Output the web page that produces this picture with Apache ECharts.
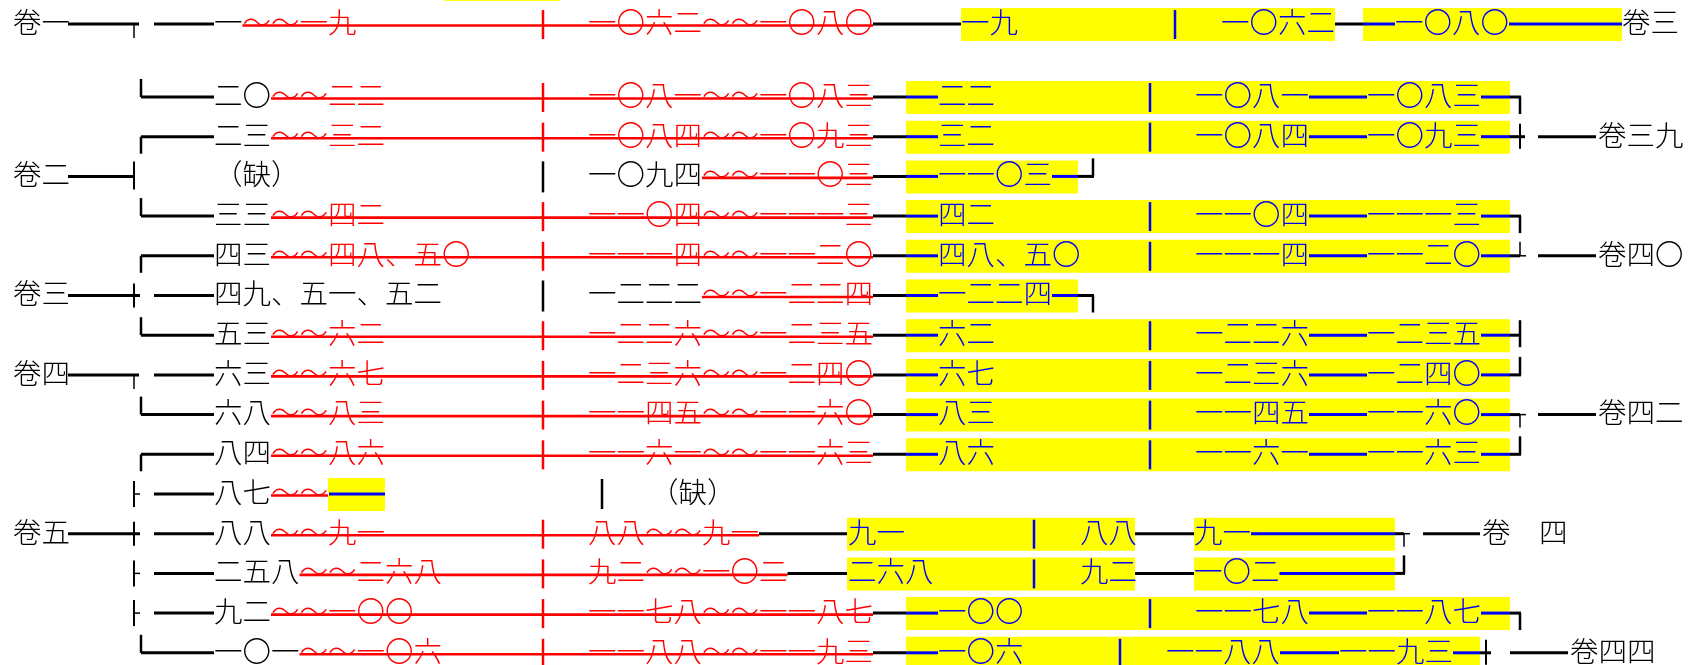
<!DOCTYPE html>
<html><head><meta charset="utf-8">
<script src="https://cdn.jsdelivr.net/npm/echarts@6/dist/echarts.min.js"></script>
<style>html,body{margin:0;padding:0;background:#fff}#c{width:1705px;height:665px}</style>
</head><body><div id="c"></div>
<script>
// ---------------- content ----------------
const leftVolumes  = ['卷一','','','卷二','','','卷三','','卷四','','','','卷五','','',''];
const leftBrackets = ['┬','└','┌','┤','└','┌','┼','└','┬','└','┌','├','┼','├','├','└'];
const col1Kept   = ['一','二〇','二三','（缺）','三三','四三','四九、五一、五二','五三','六三','六八','八四','八七','八八','二五八','九二','一〇一'];
const col1Struck = ['～～一九','～～二二','～～三二','','～～四二','～～四八、五〇','','～～六二','～～六七','～～八三','～～八六','～～','～～九一','～～二六八','～～一〇〇','～～一〇六'];
const col2Kept   = ['','','','一〇九四','','','一二二二','','','','','（缺）','','','',''];
const col2Struck = ['一〇六二～～一〇八〇','一〇八一～～一〇八三','一〇八四～～一〇九三','～～一一〇三','一一〇四～～一一一三','一一一四～～一一二〇','～～一二二四','一二二六～～一二三五','一二三六～～一二四〇','一一四五～～一一六〇','一一六一～～一一六三','','八八～～九一','九二～～一〇二','一一七八～～一一八七','一一八八～～一一九三'];
const newFirst = ['一九','二二','三二','','四二','四八、五〇','','六二','六七','八三','八六','','九一','二六八','一〇〇','一〇六'];
const newFrom  = ['一〇六二','一〇八一','一〇八四','','一一〇四','一一一四','','一二二六','一二三六','一一四五','一一六一','','八八','九二','一一七八','一一八八'];
const newTo    = ['一〇八〇','一〇八三','一〇九三','一一〇三','一一一三','一一二〇','一二二四','一二三五','一二四〇','一一六〇','一一六三','','九一','一〇二','一一八七','一一九三'];
const rightBrackets = ['','┐','┼','┘','┐','┴','┐','┤','┘','┬','┘','','┬','┘','┐','┼'];
const rightVolumes  = ['卷三','','卷三九','','','卷四〇','','','','卷四二','','','卷　四','','','卷四四'];
const rowKinds = ['head','full','full','short','full','full','short','full','full','full','full','gap','split','split','full','tail'];
const fragmentRows = [-1];

// ---------------- layout & style ----------------
const FS = 28.5;
const FAMILY = '"Noto Sans CJK JP","Noto Sans CJK SC",sans-serif';
const RED = '#ff0000', BLUE = '#0000ff', BLACK = '#000000', YELLOW = '#ffff00';
const LW = 3;
const TEXT_DY = -2, STRIKE_DY = 1.5;
const L = { volL: 13, volLine0: 68, teeX: 134, cornerX: 141, branch0: 154, c1: 214, mid: 543, c2: 588, gapDiv: 602, gapC2: 650 };
const R = {
  full:  { box0: 906, box1: 1510, first: 938, div: 1150, from: 1195, to: 1367, br: 1520, vl: [1538, 1596], vol: 1598 },
  tail:  { box0: 906, box1: 1480, first: 938, div: 1120, from: 1166, to: 1339, br: 1486, vl: [1510, 1568], vol: 1570 },
  head:  { boxA: [961, 1335], boxB: [1363, 1622], first: 961, div: 1175, from: 1221, to: 1395, vol: 1622 },
  short: { box0: 906, box1: 1078, to: 938, br: 1093 },
  split: { boxA: [847, 1135], boxB: [1194, 1395], first: 848, div: 1034, from: 1080, to: 1194, br: 1404, vl: [1423, 1480], vol: 1482 },
  gap:   { boxW: 57 }
};
const FRAG = [445, 560];
function rowY(i) { return i <= 0 ? 24 + i * 40 : 97 + (i - 1) * 39.7; }
const textW = s => [...s].length * FS;

function builder(api, y) {
  const rects = [], lines = [], texts = [];
  const pt = (x, yy) => api.coord([x, yy]);
  const B = {
    rects, lines, texts,
    seg(x0, y0, x1, y1, c, w) { const a = pt(x0, y0), b = pt(x1, y1);
      lines.push({ type: 'line', shape: { x1: a[0], y1: a[1], x2: b[0], y2: b[1] }, style: { stroke: c, lineWidth: w } }); },
    h(x0, x1, c, w) { if (x1 > x0) B.seg(x0, y, x1, y, c, w || LW); },
    strike(x0, x1) { if (x1 > x0) B.seg(x0, y + STRIKE_DY, x1, y + STRIKE_DY, RED, 2.6); },
    v(x, d0, d1, c, w) { B.seg(x, y + d0, x, y + d1, c, w || 2); },
    box(x0, x1) { const a = pt(x0, y - 16), b = pt(x1, y + 17);
      rects.push({ type: 'rect', shape: { x: a[0], y: a[1], width: b[0] - a[0], height: b[1] - a[1] }, style: { fill: YELLOW } }); },
    t(x, s, c) { if (!s) return x; const a = pt(x, y + TEXT_DY);
      texts.push({ type: 'text', style: { x: a[0], y: a[1], text: s, fill: c, fontSize: FS, fontFamily: FAMILY, fontWeight: 300,
        align: 'left', verticalAlign: 'middle', textAlign: 'left', textVerticalAlign: 'middle' } });
      return x + textW(s); }
  };
  return B;
}

function rightBracket(B, fromX, bx, g) {
  switch (g) {
    case '┐': B.h(fromX, bx + 1, BLACK); B.v(bx, 0, 17, BLACK, 2.5); break;
    case '┘': B.h(fromX, bx + 1, BLACK); B.v(bx, -18, 0, BLACK, 2.5); break;
    case '┼': B.h(fromX, bx + 5, BLACK); B.v(bx, -13, 12, BLACK, 2); break;
    case '┴': B.h(fromX, bx, BLACK); B.h(bx, bx + 6, BLACK, 1.5); B.v(bx, -14, 0, BLACK, 1.5); break;
    case '┤': B.h(fromX, bx, BLACK); B.v(bx, -15, 12, BLACK, 2.5); break;
    case '┬': B.h(fromX, bx, BLACK); B.h(bx, bx + 6, BLACK, 1.5); B.v(bx, 0, 13, BLACK, 1.5); break;
  }
}

function renderRow(params, api) {
  const i = api.value(2);
  const y = rowY(i);
  const kind = rowKinds[i];
  const B = builder(api, y);

  // left volume + bracket
  if (leftVolumes[i]) B.t(L.volL, leftVolumes[i], BLACK);
  switch (leftBrackets[i]) {
    case '┬': B.h(L.volLine0, L.teeX + 5, BLACK); B.v(L.teeX, 0, 14, BLACK, 1.5); B.h(L.branch0, L.c1, BLACK); break;
    case '┤': B.h(L.volLine0, L.teeX, BLACK); B.v(L.teeX, -15, 13, BLACK, 2); break;
    case '┼': B.h(L.volLine0, L.teeX + 6, BLACK); B.v(L.teeX, -12, 12, BLACK, 2); B.h(L.branch0, L.c1, BLACK); break;
    case '├': B.v(L.teeX, -13, 13, BLACK, 2); B.h(L.teeX, L.teeX + 6, BLACK, 1.5); B.h(L.branch0, L.c1, BLACK); break;
    case '└': B.v(L.cornerX, -18, 0, BLACK, 2.5); B.h(L.cornerX, L.c1, BLACK); break;
    case '┌': B.v(L.cornerX, 0, 17, BLACK, 2.5); B.h(L.cornerX, L.c1, BLACK); break;
  }

  // column 1
  const s1 = B.t(L.c1, col1Kept[i], BLACK);
  const e1 = B.t(s1, col1Struck[i], RED);

  if (kind === 'gap') {
    B.strike(s1, e1);
    B.box(e1, e1 + R.gap.boxW);
    B.h(e1 + 1, e1 + R.gap.boxW, BLUE);
    B.v(L.gapDiv, -15, 15, BLACK, 2.5);
    B.t(L.gapC2, col2Kept[i], BLACK);
    return group(B);
  }

  // column 2
  const s2 = B.t(L.c2, col2Kept[i], BLACK);
  const e2 = B.t(s2, col2Struck[i], RED);
  const struckThrough = col1Struck[i] && !col2Kept[i];
  if (struckThrough) { B.strike(s1, e2); B.v(L.mid, -14, 15, RED, 2.5); }
  else { B.strike(s2, e2); B.v(L.mid, -15, 16, BLACK, 2.5); }

  const r = R[kind];
  if (kind === 'full' || kind === 'tail') {
    B.h(e2, r.box0, BLACK);
    B.box(r.box0, r.box1);
    B.h(r.box0, r.first, BLUE);
    B.t(r.first, newFirst[i], BLUE);
    B.v(r.div, -14, 15, BLUE, 2.5);
    const xf = B.t(r.from, newFrom[i], BLUE);
    B.h(xf, r.to, BLUE);
    const xt = B.t(r.to, newTo[i], BLUE);
    B.h(xt, r.box1, BLUE);
    rightBracket(B, r.box1, r.br, rightBrackets[i]);
    if (rightVolumes[i]) { B.h(r.vl[0], r.vl[1], BLACK); B.t(r.vol, rightVolumes[i], BLACK); }
  } else if (kind === 'head') {
    B.h(e2, r.boxA[0], BLACK);
    B.box(r.boxA[0], r.boxA[1]);
    B.t(r.first, newFirst[i], BLUE);
    B.v(r.div, -14, 15, BLUE, 2.5);
    B.t(r.from, newFrom[i], BLUE);
    B.h(r.boxA[1], r.boxB[0], BLACK);
    B.box(r.boxB[0], r.boxB[1]);
    B.h(r.boxB[0], r.to, BLUE);
    const xt = B.t(r.to, newTo[i], BLUE);
    B.h(xt, r.boxB[1], BLUE);
    B.t(r.vol, rightVolumes[i], BLACK);
  } else if (kind === 'short') {
    B.h(e2, r.box0, BLACK);
    B.box(r.box0, r.box1);
    B.h(r.box0, r.to, BLUE);
    const xt = B.t(r.to, newTo[i], BLUE);
    B.h(xt, r.box1, BLUE);
    rightBracket(B, r.box1, r.br, rightBrackets[i]);
  } else if (kind === 'split') {
    B.h(e2, r.boxA[0], BLACK);
    B.box(r.boxA[0], r.boxA[1]);
    B.t(r.first, newFirst[i], BLUE);
    B.v(r.div, -14, 15, BLUE, 2.5);
    B.t(r.from, newFrom[i], BLUE);
    B.h(r.boxA[1], r.boxB[0], BLACK);
    B.box(r.boxB[0], r.boxB[1]);
    const xt = B.t(r.to, newTo[i], BLUE);
    B.h(xt, r.boxB[1], BLUE);
    rightBracket(B, r.boxB[1], r.br, rightBrackets[i]);
    if (rightVolumes[i]) { B.h(r.vl[0], r.vl[1], BLACK); B.t(r.vol, rightVolumes[i], BLACK); }
  }
  return group(B);
}

function group(B) { return { type: 'group', children: [].concat(B.rects, B.lines, B.texts) }; }

function renderFragment(params, api) {
  const B = builder(api, rowY(api.value(2)));
  B.box(FRAG[0], FRAG[1]);
  return group(B);
}

const chart = echarts.init(document.getElementById('c'), null, { renderer: 'canvas' });
chart.setOption({
  animation: false,
  backgroundColor: '#ffffff',
  grid: { left: 0, right: 0, top: 0, bottom: 0 },
  xAxis: { type: 'value', min: 0, max: 1705, show: false },
  yAxis: { type: 'value', min: 0, max: 665, inverse: true, show: false },
  series: [
    { type: 'custom', clip: false, silent: true, renderItem: renderFragment, data: fragmentRows.map(r => [0, rowY(r), r]) },
    { type: 'custom', clip: false, silent: true, renderItem: renderRow, data: rowKinds.map((k, i) => [0, rowY(i), i]) }
  ]
});
</script>
</body></html>
